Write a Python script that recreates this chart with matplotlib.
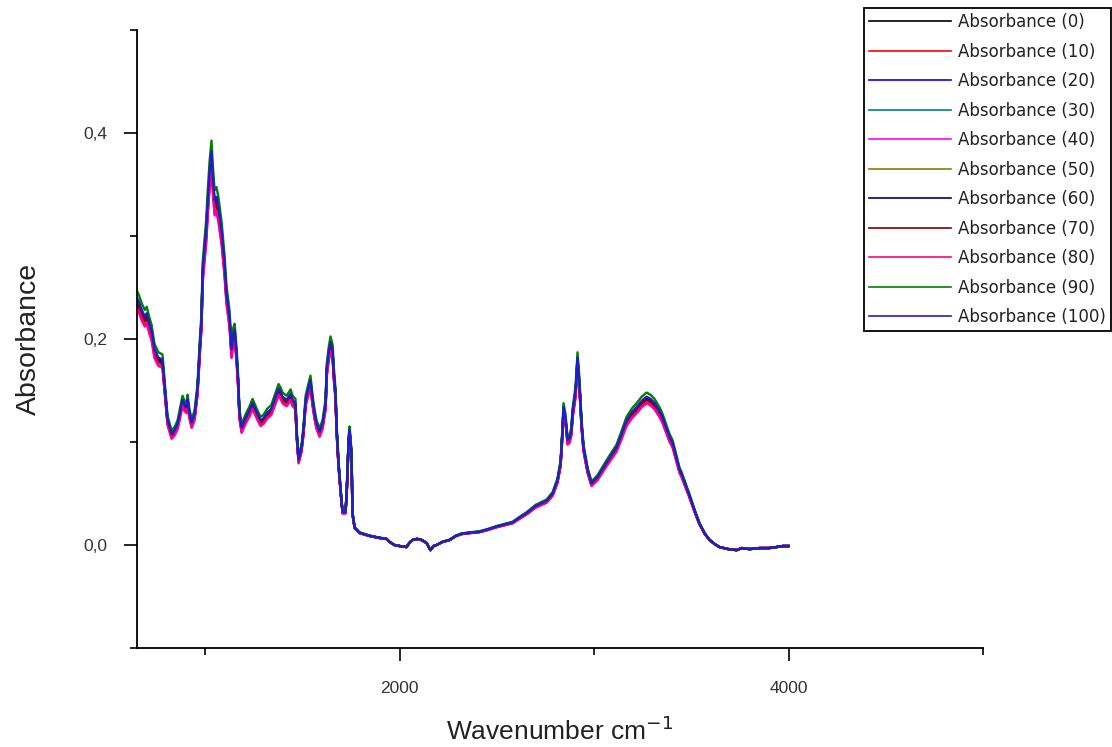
import matplotlib
matplotlib.use('Agg')
import matplotlib.pyplot as plt
from matplotlib.ticker import MultipleLocator, FuncFormatter

# spectrum (top curve, Absorbance (100))
wavenumber = [650, 660, 675, 690, 700, 715, 725, 740, 760, 781, 792, 807, 828, 845, 859,
              872, 884, 895, 905, 910, 920, 931, 946, 961, 975, 982, 987, 997, 1005, 1013,
              1023, 1033, 1039, 1049, 1059, 1065, 1069, 1085, 1100, 1110, 1126, 1136, 1145,
              1152, 1162, 1170, 1177, 1188, 1203, 1215, 1229, 1244, 1258, 1270, 1285, 1300,
              1321, 1340, 1357, 1378, 1390, 1398, 1419, 1440, 1450, 1465, 1470, 1481, 1496,
              1506, 1517, 1527, 1542, 1553, 1563, 1573, 1589, 1604, 1620, 1625, 1635, 1645,
              1656, 1661, 1671, 1676, 1686, 1697, 1707, 1722, 1728, 1738, 1743, 1753, 1758,
              1769, 1794, 1846, 1897, 1933, 1949, 1974, 2000, 2036, 2050, 2067, 2090, 2113,
              2139, 2159, 2175, 2190, 2220, 2257, 2290, 2319, 2360, 2411, 2450, 2499, 2540,
              2581, 2620, 2653, 2700, 2756, 2787, 2812, 2828, 2838, 2843, 2853, 2864, 2875,
              2884, 2889, 2905, 2915, 2925, 2936, 2946, 2967, 2987, 3018, 3064, 3116, 3140,
              3167, 3195, 3219, 3245, 3270, 3290, 3311, 3337, 3352, 3388, 3404, 3440, 3450,
              3491, 3520, 3542, 3570, 3594, 3620, 3645, 3690, 3733, 3760, 3800, 3851, 3900,
              3938, 3970, 4000]
absorbance = [0.240, 0.236, 0.228, 0.222, 0.225, 0.214, 0.208, 0.190, 0.182, 0.180, 0.155,
              0.122, 0.108, 0.112, 0.118, 0.130, 0.141, 0.136, 0.134, 0.142, 0.128, 0.119,
              0.127, 0.152, 0.200, 0.220, 0.265, 0.288, 0.305, 0.332, 0.362, 0.382, 0.361,
              0.335, 0.338, 0.332, 0.328, 0.305, 0.274, 0.245, 0.221, 0.190, 0.205, 0.209,
              0.186, 0.160, 0.128, 0.114, 0.121, 0.126, 0.131, 0.138, 0.132, 0.127, 0.121,
              0.123, 0.129, 0.132, 0.141, 0.152, 0.148, 0.144, 0.141, 0.147, 0.141, 0.138,
              0.112, 0.083, 0.095, 0.112, 0.141, 0.149, 0.160, 0.141, 0.128, 0.118, 0.110,
              0.118, 0.138, 0.170, 0.186, 0.197, 0.189, 0.170, 0.147, 0.115, 0.080, 0.053,
              0.032, 0.032, 0.050, 0.102, 0.112, 0.089, 0.031, 0.017, 0.012, 0.009, 0.007,
              0.006, 0.003, 0.000, -0.001, -0.002, 0.002, 0.005, 0.006, 0.005, 0.002, -0.005,
              -0.001, 0.000, 0.003, 0.005, 0.009, 0.011, 0.012, 0.013, 0.015, 0.018, 0.020,
              0.022, 0.027, 0.031, 0.038, 0.043, 0.050, 0.063, 0.080, 0.112, 0.134, 0.124,
              0.102, 0.104, 0.112, 0.128, 0.150, 0.182, 0.157, 0.118, 0.095, 0.073, 0.060,
              0.066, 0.080, 0.095, 0.107, 0.121, 0.129, 0.134, 0.140, 0.144, 0.142, 0.138,
              0.130, 0.124, 0.105, 0.099, 0.073, 0.069, 0.048, 0.032, 0.021, 0.011, 0.005,
              0.001, -0.002, -0.004, -0.005, -0.003, -0.004, -0.003, -0.003, -0.002, -0.001,
              -0.001]

# the 11 series and their relative intensity vs. the top curve (estimated)
series_names = ['0', '10', '20', '30', '40', '50', '60', '70', '80', '90', '100']
rel_intensity = [0.985, 0.98, 0.99, 0.985, 0.955, 0.97, 0.99, 0.98, 0.96, 1.028, 1.0]
colors = ['#000000', '#FF0000', '#0000FF', '#008080', '#FF00FF', '#808000',
          '#000080', '#800000', '#FF0080', '#008000', '#1E1EC4']

########################################################################################

narrow = ['Liberation Sans Narrow', 'Liberation Sans', 'DejaVu Sans']
fig = plt.figure(figsize=(11.12, 7.47), dpi=100)
ax = fig.add_axes([0.1232, 0.1325, 0.7608, 0.8273])

for name, k, c in zip(series_names, rel_intensity, colors):
    ax.plot(wavenumber, [a * k for a in absorbance], color=c, linewidth=1.7,
            label='Absorbance (' + name + ')')

ax.set_xlim(650, 5000)
ax.set_ylim(-0.1, 0.5)

ax.xaxis.set_major_locator(MultipleLocator(2000))
ax.xaxis.set_minor_locator(MultipleLocator(1000))
ax.yaxis.set_major_locator(MultipleLocator(0.2))
ax.yaxis.set_minor_locator(MultipleLocator(0.1))
ax.yaxis.set_major_formatter(FuncFormatter(lambda v, p: ('%.1f' % v).replace('.', ',')))

ax.spines['top'].set_visible(False)
ax.spines['right'].set_visible(False)
for s in ('left', 'bottom'):
    ax.spines[s].set_linewidth(1.3)

ax.tick_params(axis='x', which='major', pad=14)
ax.tick_params(axis='y', which='major', pad=12)
ax.tick_params(which='major', direction='out', length=9.5, width=1.2,
               labelsize=12.5, labelcolor='#333333')
ax.tick_params(which='minor', direction='out', length=5, width=1.2)
for label in ax.get_xticklabels() + ax.get_yticklabels():
    label.set_family(narrow)

ax.set_xlabel('Wavenumber cm$^{-1}$', fontsize=19, family=narrow, color='#222222', labelpad=15)
ax.set_ylabel('Absorbance', fontsize=20.5, family=['Liberation Sans', 'DejaVu Sans'],
              color='#222222', labelpad=30)

leg = ax.legend(loc='upper right', bbox_to_anchor=(0.999, 0.989), bbox_transform=fig.transFigure,
                borderaxespad=0, prop={'family': 'DejaVu Sans', 'size': 12},
                handlelength=4.9, handletextpad=0.45, labelspacing=0.69,
                fancybox=False, framealpha=1, borderpad=0.3)
leg.get_frame().set_edgecolor('black')
leg.get_frame().set_linewidth(1.3)
for t in leg.get_texts():
    t.set_color('#222222')
for h in leg.get_lines():
    h.set_linewidth(1.2)

plt.savefig('out.png', dpi=100)
